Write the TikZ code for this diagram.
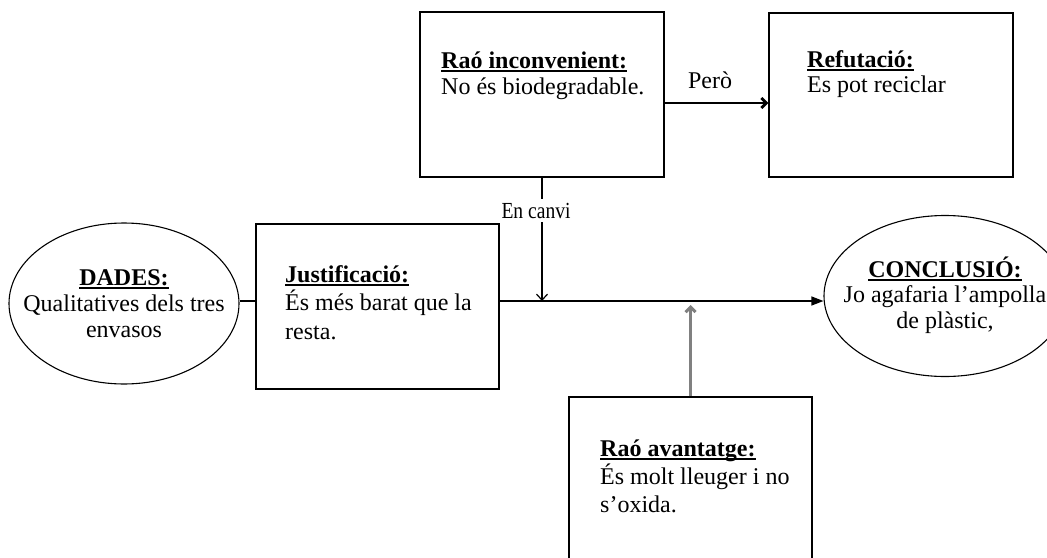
\documentclass[tikz,border=0pt]{standalone}
\usepackage{fontspec}
\setmainfont{Liberation Serif}
\usetikzlibrary{shapes.geometric,arrows.meta}

% bold heading with a close underline
\newcommand\hdr[1]{\setbox0\hbox{\bfseries #1}\rlap{\rule[-3.5pt]{\wd0}{1.5pt}}\box0}
% keep line spacing fixed inside the multi-line texts
\lineskiplimit=-20pt

\tikzset{
  argbox/.style={draw, rectangle, line width=1.4pt, inner sep=0pt},
  oval/.style={draw, ellipse, line width=1.1pt, inner sep=0pt},
  txt/.style={inner sep=0pt, align=left, anchor=north west},
  ctxt/.style={inner sep=0pt, align=center, anchor=north},
  link/.style={line width=1.2pt},
  barb/.style={-{Straight Barb[length=6pt,width=11pt]}},
  body/.style={font=\fontsize{24}{#1}\selectfont},
}

\begin{document}
\begin{tikzpicture}[x=1pt,y=-1pt]
\useasboundingbox (0,0) rectangle (1047,557);
\clip (0,0) rectangle (1047,557);

% reference rows for the straight connectors
\coordinate (mainline) at (0,301);
\coordinate (perorow) at (0,103);
\coordinate (gtip) at (0,305);

% boxes and ovals
\node[argbox, minimum width=244pt, minimum height=165pt] (inc) at (542,94.5) {};
\node[argbox, minimum width=244pt, minimum height=164pt] (ref) at (891,95) {};
\node[argbox, minimum width=243pt, minimum height=165pt] (jus) at (377.5,306.5) {};
\node[argbox, minimum width=243pt, minimum height=170pt] (ava) at (690.5,482) {};
\node[oval, minimum width=230pt, minimum height=161pt] (dad) at (124,303.5) {};
\node[oval, minimum width=242pt, minimum height=161pt] (con) at (945,296) {};

% texts
\node[txt, body=26] (incT) at (441,44)
  {\rule{0pt}{24pt}\hdr{Raó inconvenient:}\\No és biodegradable.};
\node[txt, body=25.5] (refT) at (807,43)
  {\rule{0pt}{24pt}\hdr{Refutació:}\\Es pot reciclar};
\node[txt, body=28.5] (jusT) at (285,258)
  {\rule{0pt}{24pt}\hdr{Justificació:}\\És més barat que la\\resta.};
\node[txt, body=28] (avaT) at (600,432)
  {\rule{0pt}{24pt}\hdr{Raó avantatge:}\\És molt lleuger i no\\s’oxida.};
\node[ctxt, body=26] (dadT) at (124,261)
  {\rule{0pt}{24pt}\hdr{DADES:}\\Qualitatives dels tres\\envasos};
\node[ctxt, body=25.5] (conT) at (945,253)
  {\rule{0pt}{24pt}\hdr{CONCLUSIÓ:}\\Jo agafaria l’ampolla\\de plàstic,};

% connectors
\draw[link] (dad.east |- mainline) -- (jus.west |- mainline);
\draw[link, -{Triangle[length=12pt,width=9pt]}] (jus.east |- mainline) -- (con.west |- mainline);
\draw[line width=2.8pt, -{Straight Barb[length=5pt,width=10pt]}]
  (inc.east |- perorow) -- (ref.west |- perorow);
\draw[link, barb] (inc.south) -- (inc.south |- mainline);
\draw[line width=3pt, gray, -{Straight Barb[length=5pt,width=10pt]}]
  (ava.north) -- (ava.north |- gtip);

% connector labels
\node[anchor=base, inner sep=0pt, font=\fontsize{24}{26}\selectfont] (pero) at (710,88) {Però};
\node[anchor=base, fill=white, inner xsep=1pt, inner ysep=3.5pt,
      font=\fontsize{23}{25}\selectfont] (encanvi) at (536,218)
  {\scalebox{0.85}[1]{En canvi}};
\end{tikzpicture}
\end{document}
